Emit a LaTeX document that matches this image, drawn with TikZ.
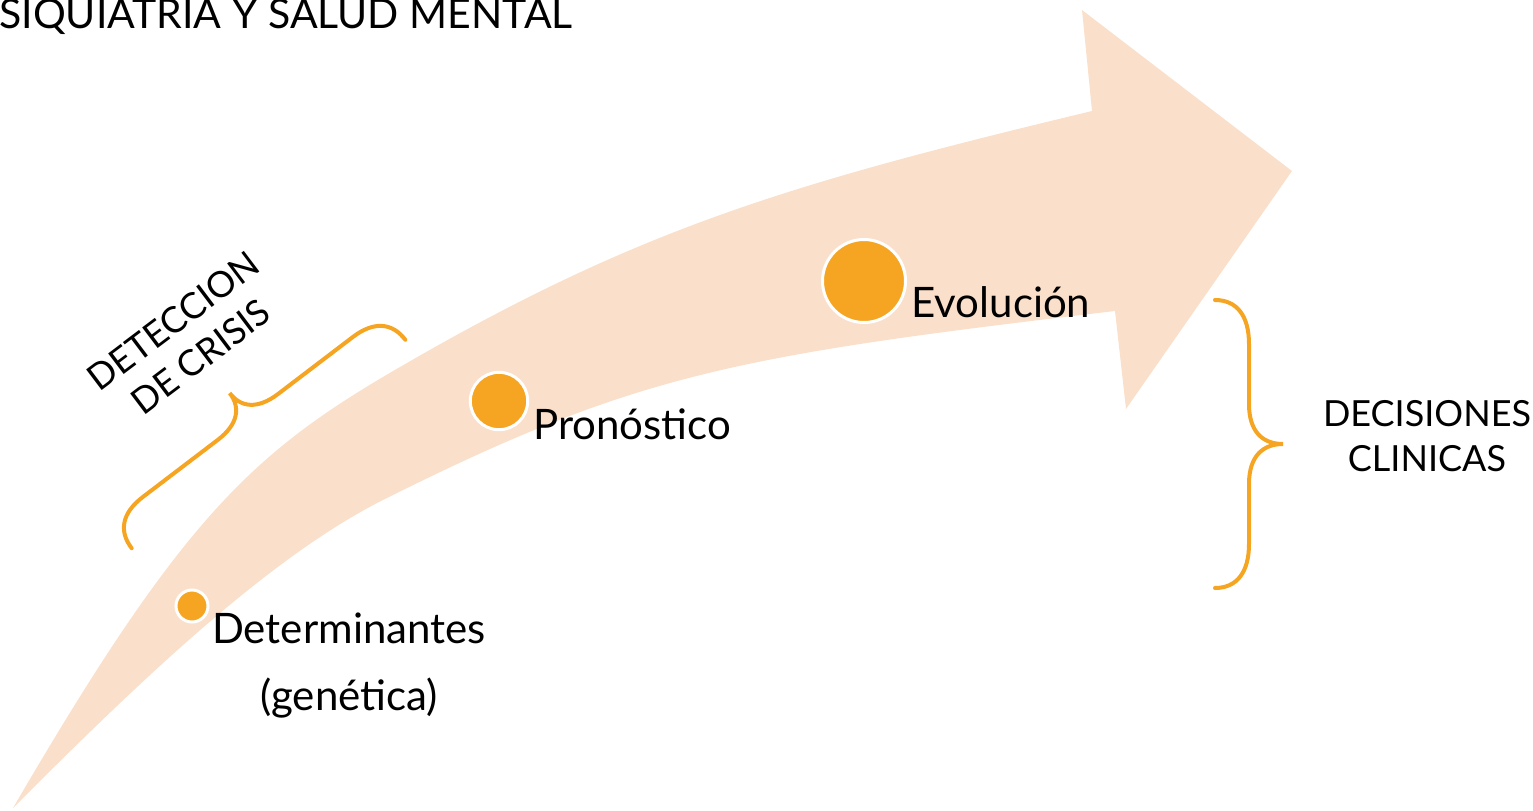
\documentclass[tikz,border=0pt]{standalone}
\usepackage{fontspec}
\setmainfont{Lato}
\definecolor{peach}{HTML}{FAE0CB}
\definecolor{amber}{HTML}{F5A522}
\tikzstyle{stagedot} = [circle, fill=amber, draw=white, line width=1.5pt, inner sep=0pt]
\tikzstyle{stage} = [anchor=base west, inner sep=0pt, font=\fontsize{21}{33.5}\selectfont]
\tikzstyle{capsnote} = [align=center, inner sep=0pt, font=\fontsize{18}{22.5}\selectfont]
\tikzstyle{curly} = [draw=amber, line width=2pt, line cap=round]

\begin{document}
\begin{tikzpicture}[x=0.5pt,y=-0.5pt]
\useasboundingbox (0,0) rectangle (1533,810);
\clip (0,0) rectangle (1533,810);

%arrow
\fill[peach] (13,808) .. controls (183,516) and (253,452) .. (400,367)
  .. controls (637,229.5) and (786,184.4) .. (1092,111)
  -- (1082,10) -- (1292,171) -- (1126,409) -- (1115,311)
  .. controls (732.5,356) and (635,374) .. (383,500)
  .. controls (266,559) and (136,685) .. (13,808) -- cycle;

%title
\node[anchor=base west, inner sep=0pt, font=\fontsize{20.5}{24}\selectfont] (title) at (-1,28) {SIQUIATRIA Y SALUD MENTAL};

%stages
\node[stagedot, minimum size=16pt] (dot1) at (192,606) {};
\node[stagedot, minimum size=28.7pt] (dot2) at (499,401) {};
\node[stagedot, minimum size=41.5pt] (dot3) at (864,281) {};

\node[stage, anchor=center, align=center] (determinantes) at (349,666) {Determinantes\\(genética)};
\node[stage] (pronostico) at (533,439) {Pronóstico};
\node[stage] (evolucion) at (911,317) {Evolución};

%notes
\node[capsnote, rotate=37] (deteccion) at (187,339) {DETECCION\\DE CRISIS};
\node[capsnote] (decisiones) at (1427,436) {DECISIONES\\CLINICAS};

%braces
\begin{scope}[shift={(268.5,444)}, rotate=127.3]
\draw[curly] (0,-172) .. controls (22,-172) and (34,-158) .. (34,-132) -- (34,-38)
  .. controls (34,-12) and (46,0) .. (64,0) .. controls (46,0) and (34,12) .. (34,38)
  -- (34,132) .. controls (34,158) and (22,172) .. (0,172);
\end{scope}
\begin{scope}[shift={(1215,444)}]
\draw[curly] (0,-144) .. controls (22,-144) and (34,-128) .. (34,-100) -- (34,-40)
  .. controls (34,-12) and (48,0) .. (68,0) .. controls (48,0) and (34,12) .. (34,40)
  -- (34,100) .. controls (34,128) and (22,144) .. (0,144);
\end{scope}
\end{tikzpicture}
\end{document}
